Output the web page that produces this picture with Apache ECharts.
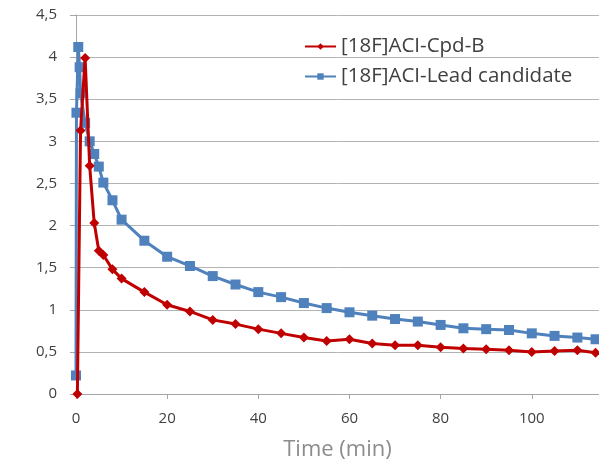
<!DOCTYPE html>
<html>
<head>
<meta charset="utf-8">
<script src="https://cdn.jsdelivr.net/npm/echarts@6/dist/echarts.min.js"></script>
<style>html,body{margin:0;padding:0;background:#fff}#c{width:599px;height:463px}</style>
</head>
<body>
<div id="c"></div>
<script>
var seriesNames = ['[18F]ACI-Cpd-B', '[18F]ACI-Lead candidate'];
var cpdBTimes = [0.3, 1, 2, 3, 4, 5, 6, 8, 10, 15, 20, 25, 30, 35, 40, 45, 50, 55, 60, 65, 70, 75, 80, 85, 90, 95, 100, 105, 110, 114];
var cpdBValues = [0, 3.13, 3.99, 2.71, 2.03, 1.70, 1.65, 1.48, 1.37, 1.21, 1.06, 0.98, 0.88, 0.83, 0.77, 0.72, 0.67, 0.63, 0.65, 0.60, 0.58, 0.58, 0.555, 0.54, 0.53, 0.52, 0.50, 0.51, 0.52, 0.49];
var leadTimes = [0, 0.1, 0.5, 0.8, 1, 2, 3, 4, 5, 6, 8, 10, 15, 20, 25, 30, 35, 40, 45, 50, 55, 60, 65, 70, 75, 80, 85, 90, 95, 100, 105, 110, 114];
var leadValues = [0.22, 3.34, 4.12, 3.88, 3.57, 3.22, 3.00, 2.85, 2.70, 2.51, 2.30, 2.07, 1.82, 1.63, 1.52, 1.40, 1.30, 1.21, 1.15, 1.08, 1.02, 0.97, 0.93, 0.89, 0.86, 0.82, 0.78, 0.77, 0.76, 0.72, 0.69, 0.67, 0.65];
var xTickLabels = [0, 20, 40, 60, 80, 100];
var yTickLabels = ['0', '0,5', '1', '1,5', '2', '2,5', '3', '3,5', '4', '4,5'];

function pairs(xs, ys) { return xs.map(function (x, i) { return [x, ys[i]]; }); }

var chart = echarts.init(document.getElementById('c'), null, { renderer: 'canvas' });
var fontFam = 'Open Sans, Liberation Sans, sans-serif';
chart.setOption({
  animation: false,
  backgroundColor: '#ffffff',
  grid: { left: 76, right: 0, top: 15, bottom: 69, containLabel: false, outerBoundsMode: 'none' },
  legend: {
    orient: 'vertical',
    left: 299,
    top: 31,
    itemWidth: 31,
    itemHeight: 8,
    itemGap: 9,
    textStyle: { fontFamily: fontFam, fontSize: 20.5, lineHeight: 21, color: '#404040' },
    data: seriesNames
  },
  xAxis: {
    type: 'value',
    min: 0,
    max: 114.75,
    interval: 20,
    name: 'Time (min)',
    nameLocation: 'middle',
    nameGap: 45,
    nameTextStyle: { fontFamily: fontFam, fontSize: 22, color: '#8c8c8c' },
    axisLine: { show: true, lineStyle: { color: '#a6a6a6', width: 1 } },
    axisTick: { show: true, length: 5, lineStyle: { color: '#a6a6a6' } },
    axisLabel: {
      showMaxLabel: false,
      margin: 17,
      fontFamily: fontFam, fontSize: 15, color: '#404040',
      formatter: function (v) { return xTickLabels.indexOf(v) >= 0 ? String(v) : ''; }
    },
    splitLine: { show: false }
  },
  yAxis: {
    type: 'value',
    min: 0,
    max: 4.5,
    interval: 0.5,
    axisLine: { show: true, lineStyle: { color: '#a6a6a6', width: 1 } },
    axisTick: { show: true, length: 6, lineStyle: { color: '#a6a6a6' } },
    axisLabel: {
      margin: 19,
      fontFamily: fontFam, fontSize: 15, color: '#404040',
      formatter: function (v) { return yTickLabels[Math.round(v * 2)]; }
    },
    splitLine: { show: true, lineStyle: { color: '#b3b3b3', width: 1 } }
  },
  series: [
    {
      name: seriesNames[0],
      type: 'line',
      data: pairs(cpdBTimes, cpdBValues),
      symbol: 'diamond',
      symbolSize: 10,
      color: '#C00000',
      lineStyle: { width: 3, color: '#C00000' },
      itemStyle: { color: '#C00000' },
      z: 3
    },
    {
      name: seriesNames[1],
      type: 'line',
      data: pairs(leadTimes, leadValues),
      symbol: 'rect',
      symbolSize: 10,
      color: '#4F81BD',
      lineStyle: { width: 3, color: '#4F81BD' },
      itemStyle: { color: '#4F81BD' },
      z: 2
    }
  ]
});
</script>
</body>
</html>
